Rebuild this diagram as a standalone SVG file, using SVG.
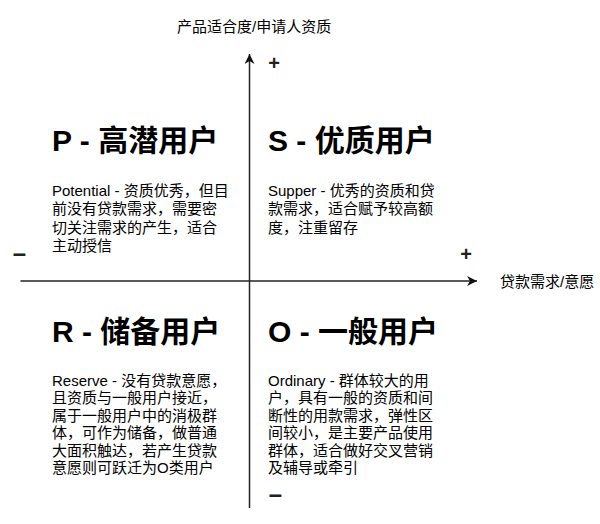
<svg xmlns="http://www.w3.org/2000/svg" width="600" height="524" viewBox="0 0 600 524">
  <style>
    text { font-family: "Liberation Sans", "Noto Sans CJK SC", sans-serif; fill: #000; }
    .axis-label { font-size: 15px; }
    .title { font-size: 30px; font-weight: bold; }
    .body { font-size: 15px; }
    .sign { font-size: 20px; font-weight: bold; text-anchor: middle; fill: #222; }
    .minus { font-size: 24px; font-weight: bold; text-anchor: middle; fill: #222; }
    .axis { stroke: #222; stroke-width: 1.5; fill: none; }
  </style>
  <defs>
    <marker id="arrow" markerUnits="userSpaceOnUse" markerWidth="12" markerHeight="12" refX="10" refY="5" orient="auto">
      <path d="M0,0 L10,5 L0,10 L3,5 Z" fill="#111"/>
    </marker>
  </defs>
  <rect width="600" height="524" fill="#fff"/>

  <g id="connectors">
    <line class="axis" x1="249.5" y1="508" x2="249.5" y2="54" marker-end="url(#arrow)"/>
    <line class="axis" x1="20.5" y1="281" x2="477" y2="281" marker-end="url(#arrow)"/>
  </g>

  <g id="axis-y-label">
    <text class="axis-label" x="177" y="32">产品适合度/申请人资质</text>
  </g>
  <g id="axis-x-label">
    <text class="axis-label" x="500" y="286.5">贷款需求/意愿</text>
  </g>

  <g id="signs">
    <text class="sign" x="274" y="70">+</text>
    <text class="sign" x="466" y="261">+</text>
    <text class="minus" x="19.5" y="261">–</text>
    <text class="minus" x="275.5" y="502">–</text>
  </g>

  <g id="quadrant-P">
    <text class="title" x="52" y="151">P - 高潜用户</text>
    <text class="body" x="52" y="195.5">Potential - 资质优秀，但目</text>
    <text class="body" x="52" y="214">前没有贷款需求，需要密</text>
    <text class="body" x="52" y="232.5">切关注需求的产生，适合</text>
    <text class="body" x="52" y="251">主动授信</text>
  </g>

  <g id="quadrant-S">
    <text class="title" x="268" y="151">S - 优质用户</text>
    <text class="body" x="268" y="195.5">Supper - 优秀的资质和贷</text>
    <text class="body" x="268" y="214">款需求，适合赋予较高额</text>
    <text class="body" x="268" y="232.5">度，注重留存</text>
  </g>

  <g id="quadrant-R">
    <text class="title" x="52" y="342">R - 储备用户</text>
    <text class="body" x="52" y="385.5">Reserve - 没有贷款意愿，</text>
    <text class="body" x="52" y="403">且资质与一般用户接近，</text>
    <text class="body" x="52" y="420.5">属于一般用户中的消极群</text>
    <text class="body" x="52" y="438">体，可作为储备，做普通</text>
    <text class="body" x="52" y="455.5">大面积触达，若产生贷款</text>
    <text class="body" x="52" y="473">意愿则可跃迁为O类用户</text>
  </g>

  <g id="quadrant-O">
    <text class="title" x="268" y="342">O - 一般用户</text>
    <text class="body" x="268" y="385.5">Ordinary - 群体较大的用</text>
    <text class="body" x="268" y="403">户，具有一般的资质和间</text>
    <text class="body" x="268" y="420.5">断性的用款需求，弹性区</text>
    <text class="body" x="268" y="438">间较小，是主要产品使用</text>
    <text class="body" x="268" y="455.5">群体，适合做好交叉营销</text>
    <text class="body" x="268" y="473">及辅导或牵引</text>
  </g>
</svg>
